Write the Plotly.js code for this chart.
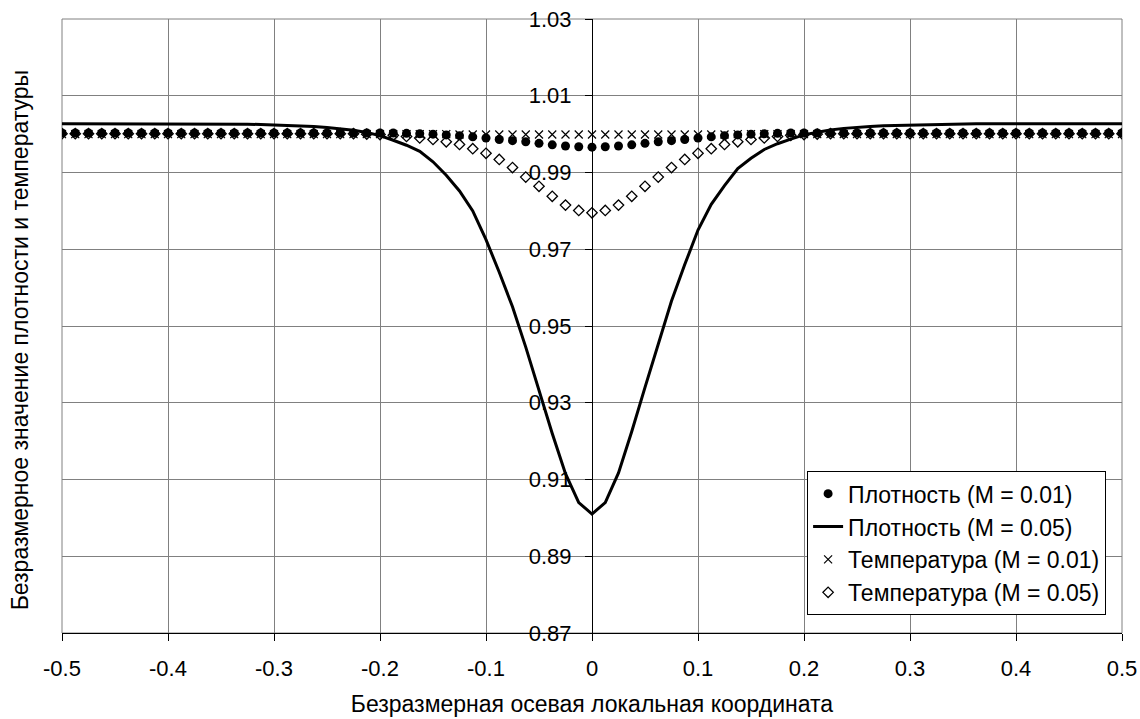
<!DOCTYPE html>
<html>
<head>
<meta charset="utf-8">
<script src="https://cdn.plot.ly/plotly-3.0.1.min.js"></script>
<style>html,body{margin:0;padding:0;background:#fff;}#chart{width:1140px;height:719px;}</style>
</head>
<body>
<div id="chart"></div>
<script>
// Axial coordinate (step 0.0125)
const xCoord = [-0.5,-0.4875,-0.475,-0.4625,-0.45,-0.4375,-0.425,-0.4125,-0.4,-0.3875,-0.375,-0.3625,-0.35,-0.3375,-0.325,-0.3125,-0.3,-0.2875,-0.275,-0.2625,-0.25,-0.2375,-0.225,-0.2125,-0.2,-0.1875,-0.175,-0.1625,-0.15,-0.1375,-0.125,-0.1125,-0.1,-0.0875,-0.075,-0.0625,-0.05,-0.0375,-0.025,-0.0125,0,0.0125,0.025,0.0375,0.05,0.0625,0.075,0.0875,0.1,0.1125,0.125,0.1375,0.15,0.1625,0.175,0.1875,0.2,0.2125,0.225,0.2375,0.25,0.2625,0.275,0.2875,0.3,0.3125,0.325,0.3375,0.35,0.3625,0.375,0.3875,0.4,0.4125,0.425,0.4375,0.45,0.4625,0.475,0.4875,0.5];

// Density, M = 0.01 (filled circles)
const densityM001 = [1.0003,1.0003,1.0003,1.0003,1.0003,1.0003,1.0003,1.0003,1.0003,1.0003,1.0003,1.0003,1.0003,1.0003,1.0003,1.0003,1.0003,1.0003,1.0003,1.0003,1.0003,1.0003,1.0003,1.0003,1.0003,1.0003,1.0002,1.0001,1.0000,0.9998,0.9996,0.9993,0.9990,0.9986,0.9983,0.9980,0.9976,0.9972,0.9969,0.9967,0.9966,0.9967,0.9969,0.9972,0.9976,0.9980,0.9983,0.9986,0.9990,0.9993,0.9996,0.9998,1.0000,1.0001,1.0002,1.0003,1.0003,1.0003,1.0003,1.0003,1.0003,1.0003,1.0003,1.0003,1.0003,1.0003,1.0003,1.0003,1.0003,1.0003,1.0003,1.0003,1.0003,1.0003,1.0003,1.0003,1.0003,1.0003,1.0003,1.0003,1.0003];

// Density, M = 0.05 (solid line)
const densityM005 = [1.0027,1.0027,1.0027,1.0027,1.0027,1.0027,1.0027,1.0027,1.0027,1.0027,1.0027,1.0027,1.0027,1.0026,1.0026,1.0025,1.0024,1.0023,1.0022,1.0020,1.0017,1.0014,1.0010,1.0004,0.9996,0.9984,0.9971,0.9955,0.9928,0.9893,0.9852,0.9800,0.9725,0.9640,0.9550,0.9445,0.9330,0.9220,0.9115,0.9040,0.9010,0.9040,0.9117,0.9225,0.9340,0.9455,0.9565,0.9660,0.9750,0.9817,0.9866,0.9910,0.9937,0.9960,0.9975,0.9987,0.9998,1.0005,1.0011,1.0015,1.0018,1.0020,1.0022,1.0023,1.0024,1.0025,1.0026,1.0026,1.0027,1.0027,1.0027,1.0027,1.0027,1.0027,1.0027,1.0027,1.0027,1.0027,1.0027,1.0027,1.0027];

// Temperature, M = 0.01 (x marks)
const temperatureM001 = [1.0000,1.0000,1.0000,1.0000,1.0000,1.0000,1.0000,1.0000,1.0000,1.0000,1.0000,1.0000,1.0000,1.0000,1.0000,1.0000,1.0000,1.0000,1.0000,1.0000,1.0000,1.0000,1.0000,1.0000,1.0000,1.0000,1.0000,1.0000,1.0000,1.0000,0.9999,0.9999,0.9999,0.9999,0.9999,0.9999,0.9999,0.9999,0.9999,0.9999,0.9999,0.9999,0.9999,0.9999,0.9999,0.9999,0.9999,0.9999,0.9999,0.9999,0.9999,1.0000,1.0000,1.0000,1.0000,1.0000,1.0000,1.0000,1.0000,1.0000,1.0000,1.0000,1.0000,1.0000,1.0000,1.0000,1.0000,1.0000,1.0000,1.0000,1.0000,1.0000,1.0000,1.0000,1.0000,1.0000,1.0000,1.0000,1.0000,1.0000,1.0000];

// Temperature, M = 0.05 (open diamonds)
const temperatureM005 = [1.0001,1.0001,1.0001,1.0001,1.0001,1.0001,1.0001,1.0001,1.0001,1.0001,1.0001,1.0001,1.0001,1.0001,1.0001,1.0001,1.0001,1.0001,1.0001,1.0001,1.0001,1.0001,1.0001,1.0000,0.9999,0.9997,0.9994,0.9990,0.9986,0.9980,0.9973,0.9962,0.9950,0.9934,0.9913,0.9888,0.9864,0.9838,0.9815,0.9801,0.9795,0.9801,0.9815,0.9838,0.9864,0.9888,0.9913,0.9934,0.9950,0.9962,0.9973,0.9980,0.9986,0.9990,0.9994,0.9997,0.9999,1.0000,1.0001,1.0001,1.0001,1.0001,1.0001,1.0001,1.0001,1.0001,1.0001,1.0001,1.0001,1.0001,1.0001,1.0001,1.0001,1.0001,1.0001,1.0001,1.0001,1.0001,1.0001,1.0001,1.0001];

const seriesNames = ["Плотность (M = 0.01)", "Плотность (M = 0.05)", "Температура (M = 0.01)", "Температура (M = 0.05)"];

const xTickVals = [-0.5,-0.4,-0.3,-0.2,-0.1,0,0.1,0.2,0.3,0.4,0.5];
const xTickText = ["-0.5","-0.4","-0.3","-0.2","-0.1","0","0.1","0.2","0.3","0.4","0.5"];
const yTickVals = [0.87,0.89,0.91,0.93,0.95,0.97,0.99,1.01,1.03];
const yTickText = ["0.87","0.89","0.91","0.93","0.95","0.97","0.99","1.01","1.03"];

const xTitle = "Безразмерная осевая локальная координата";
const yTitle = "Безразмерное значение плотности и температуры";

const FONT = "Liberation Sans, Arial, sans-serif";
const FS = 23;
const TFS = 22;

const traces = [
  {x: xCoord, y: densityM001, name: seriesNames[0], type: "scatter", mode: "markers",
   marker: {symbol: "circle", size: 9, color: "#000"}},
  {x: xCoord, y: densityM005, name: seriesNames[1], type: "scatter", mode: "lines",
   line: {color: "#000", width: 3}},
  {x: xCoord, y: temperatureM001, name: seriesNames[2], type: "scatter", mode: "markers",
   marker: {symbol: "x-thin-open", size: 8, color: "#000", line: {color: "#000", width: 1.2}}},
  {x: xCoord, y: temperatureM005, name: seriesNames[3], type: "scatter", mode: "markers",
   marker: {symbol: "diamond-open", size: 8, color: "#000", line: {color: "#000", width: 1.3}}}
];

const layout = {
  width: 1140, height: 719,
  margin: {l: 62, r: 18, t: 19, b: 86},
  paper_bgcolor: "#fff", plot_bgcolor: "#fff",
  font: {family: FONT, size: FS, color: "#000"},
  showlegend: true,
  legend: {x: 0.985, xanchor: "right", y: 0.029, yanchor: "bottom",
           bgcolor: "#fff", bordercolor: "#000", borderwidth: 1,
           font: {family: FONT, size: FS, color: "#000"}},
  xaxis: {range: [-0.5, 0.5], tickmode: "array", tickvals: xTickVals, ticktext: xTickText,
          tickfont: {family: FONT, size: TFS, color: "#000"},
          showgrid: true, gridcolor: "#808080", gridwidth: 1, zeroline: false,
          showline: true, linecolor: "#000", linewidth: 1,
          ticks: "outside", ticklen: 7, tickcolor: "#000", ticklabelstandoff: 9,
          title: {text: xTitle, font: {family: FONT, size: FS, color: "#000"}, standoff: 15},
          automargin: false},
  yaxis: {range: [0.87, 1.03], tickmode: "array", tickvals: yTickVals, ticktext: yTickText,
          tickfont: {family: FONT, size: TFS, color: "#000"},
          anchor: "free", position: 0.5,
          showgrid: true, gridcolor: "#808080", gridwidth: 1, zeroline: false,
          showline: true, linecolor: "#000", linewidth: 1,
          ticks: "outside", ticklen: 7, tickcolor: "#000", ticklabelstandoff: 9,
          automargin: false},
  shapes: [{type: "rect", xref: "paper", yref: "paper", x0: 0, x1: 1, y0: 0, y1: 1,
            line: {color: "#808080", width: 1}, layer: "below"}],
  annotations: [{text: yTitle, xref: "paper", yref: "paper", x: -0.04, y: 0.476,
                 xanchor: "center", yanchor: "middle", textangle: -90, showarrow: false,
                 font: {family: FONT, size: FS, color: "#000"}}]
};

Plotly.newPlot("chart", traces, layout, {displayModeBar: false, staticPlot: true});
</script>
</body>
</html>
